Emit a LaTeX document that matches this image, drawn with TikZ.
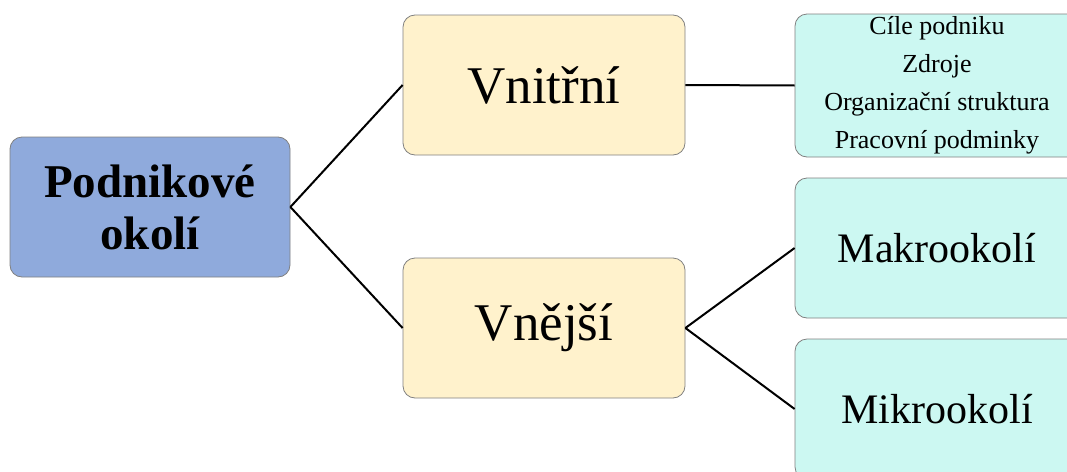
\documentclass[tikz,border=0pt]{standalone}
\usepackage{fontspec}
\setmainfont{Liberation Serif}
\definecolor{rootfill}{HTML}{8FAADC}
\definecolor{midfill}{HTML}{FFF2CC}
\definecolor{leaffill}{HTML}{CCF8F2}
\definecolor{boxline}{HTML}{808080}
\begin{document}
\begin{tikzpicture}[x=1pt,y=-1pt,
  box/.style={draw=boxline, line width=0.8pt, rounded corners=12pt, inner sep=0pt, align=center},
  rootbox/.style={box, fill=rootfill, minimum width=280pt, minimum height=140pt, font=\fontsize{47}{52}\selectfont\bfseries},
  midbox/.style={box, fill=midfill, minimum width=282pt, minimum height=140pt, font=\fontsize{53}{60}\selectfont},
  leafbox/.style={box, fill=leaffill, minimum width=284pt, minimum height=140pt, font=\fontsize{42}{48}\selectfont},
  listbox/.style={box, fill=leaffill, minimum width=284pt, minimum height=143pt, font=\fontsize{26}{38}\selectfont},
  conn/.style={line width=2pt, black}]
\clip (0,0) rectangle (1067,471);
\node[rootbox] (root) at (150,207) {Podnikové\\okolí};
\node[midbox] (vnitrni) at (544,85) {Vnitřní};
\node[midbox] (vnejsi) at (544,328) {Vnější};
\node[listbox] (list) at (937,85.5) {Cíle podniku\\Zdroje\\Organizační struktura\\Pracovní podminky};
\node[leafbox] (makro) at (937,248) {Makrookolí};
\node[leafbox] (mikro) at (937,409) {Mikrookolí};
\draw[conn] (root.east) -- (vnitrni.west);
\draw[conn] (root.east) -- (vnejsi.west);
\draw[conn] (vnitrni.east) -- (list.west);
\draw[conn] (vnejsi.east) -- (makro.west);
\draw[conn] (vnejsi.east) -- (mikro.west);
\end{tikzpicture}
\end{document}
